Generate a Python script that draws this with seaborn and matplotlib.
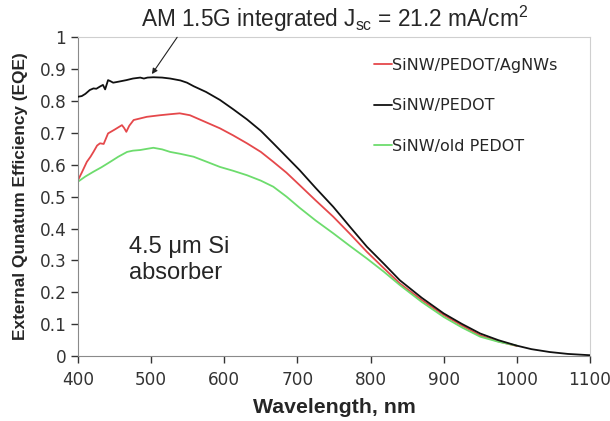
import pandas as pd
import matplotlib
matplotlib.use("Agg")
import matplotlib.pyplot as plt
import seaborn as sns

# wavelength (nm) and EQE
wl_agnw = [400, 405, 412, 417, 421, 426, 430, 435, 441, 450, 460, 463, 466, 470, 476,
           485, 494, 512, 525, 539, 553, 570, 594, 612, 631, 650, 667, 685, 703, 725,
           749, 772, 795, 818, 840, 870, 900, 925, 950, 975, 1000]
eqe_agnw = [0.552, 0.575, 0.609, 0.625, 0.640, 0.660, 0.667, 0.665, 0.698, 0.710, 0.724,
            0.715, 0.703, 0.722, 0.740, 0.745, 0.750, 0.755, 0.758, 0.761, 0.755, 0.738,
            0.714, 0.692, 0.667, 0.640, 0.609, 0.575, 0.536, 0.488, 0.437, 0.383, 0.327,
            0.276, 0.228, 0.176, 0.129, 0.096, 0.065, 0.046, 0.032]

wl_pedot = [400, 405, 410, 416, 421, 425, 430, 434, 437, 441, 444, 448, 455, 466, 475,
            485, 490, 495, 503, 515, 526, 540, 549, 558, 575, 594, 612, 631, 650, 667,
            685, 703, 725, 749, 772, 795, 818, 840, 870, 900, 925, 950, 975, 1000, 1020,
            1045, 1070, 1100]
eqe_pedot = [0.813, 0.815, 0.822, 0.834, 0.839, 0.838, 0.845, 0.850, 0.836, 0.865, 0.862,
             0.857, 0.860, 0.865, 0.870, 0.873, 0.870, 0.873, 0.874, 0.873, 0.870, 0.864,
             0.857, 0.846, 0.828, 0.803, 0.774, 0.742, 0.706, 0.667, 0.625, 0.583, 0.527,
             0.468, 0.405, 0.343, 0.290, 0.238, 0.183, 0.134, 0.101, 0.071, 0.050, 0.033,
             0.022, 0.013, 0.007, 0.003]

wl_old = [400, 410, 421, 432, 444, 455, 467, 475, 485, 495, 503, 515, 526, 540, 558,
          575, 594, 612, 631, 650, 667, 685, 703, 725, 749, 772, 795, 818, 840, 870,
          900, 925, 950, 975, 1000]
eqe_old = [0.547, 0.563, 0.578, 0.592, 0.609, 0.625, 0.640, 0.644, 0.646, 0.650, 0.653,
           0.648, 0.640, 0.634, 0.625, 0.610, 0.593, 0.581, 0.567, 0.550, 0.531, 0.500,
           0.465, 0.425, 0.385, 0.345, 0.306, 0.265, 0.223, 0.170, 0.123, 0.090, 0.061,
           0.045, 0.033]

names = ["SiNW/PEDOT/AgNWs", "SiNW/PEDOT", "SiNW/old PEDOT"]
colores = {"SiNW/PEDOT/AgNWs": "#e5484b", "SiNW/PEDOT": "#111111", "SiNW/old PEDOT": "#6ddc6d"}

df = pd.concat([
    pd.DataFrame({"wl": wl_agnw, "eqe": eqe_agnw, "muestra": names[0]}),
    pd.DataFrame({"wl": wl_pedot, "eqe": eqe_pedot, "muestra": names[1]}),
    pd.DataFrame({"wl": wl_old, "eqe": eqe_old, "muestra": names[2]}),
])

sns.set_style("white")
plt.rcParams["font.family"] = ["DejaVu Sans"]

fig = plt.figure(figsize=(6.1, 4.21), dpi=100)
ax = fig.add_axes([0.128, 0.154, 0.839, 0.758])

sns.lineplot(data=df, x="wl", y="eqe", hue="muestra", hue_order=names,
             palette=colores, linewidth=1.3, ax=ax, sort=False)
ax.lines[1].set_zorder(4)

ax.set_xlim(400, 1100)
ax.set_ylim(0, 1)
ax.set_xticks(range(400, 1101, 100))
ax.set_yticks([i / 10 for i in range(11)])
ax.set_yticklabels(["0", "0.1", "0.2", "0.3", "0.4", "0.5", "0.6", "0.7", "0.8", "0.9", "1"])
ax.tick_params(axis="both", labelsize=12.2, colors="#333333", direction="out",
               length=5, width=1, left=True, bottom=True)
ax.tick_params(axis="x", pad=6)

for lado in ["left", "bottom"]:
    ax.spines[lado].set_color("#8a8a8a")
for lado in ["top", "right"]:
    ax.spines[lado].set_color("#cfcfcf")

ax.set_xlabel("Wavelength, nm", fontsize=15.3, fontweight="bold", family="Liberation Sans",
              labelpad=6)
ax.set_ylabel("External Qunatum Efficiency (EQE)", fontsize=12.4, fontweight="bold",
              family="Liberation Sans", labelpad=8)

leg = ax.legend(loc="upper left", bbox_to_anchor=(0.55, 0.98), frameon=False,
                fontsize=11.5, handlelength=1.15, handletextpad=0.0, labelspacing=1.6)
for linea in leg.get_lines():
    linea.set_linewidth(1.3)

ax.text(0.10, 0.375, "4.5 \u03bcm Si\nabsorber", transform=ax.transAxes,
        fontsize=17, family="Liberation Sans", va="top", linespacing=1.22)

ax.annotate("AM 1.5G integrated J$_{\\mathregular{sc}}$ = 21.2 mA/cm$^{\\mathregular{2}}$",
            xy=(501, 0.884), xytext=(0.548, 0.955), textcoords="figure fraction",
            ha="center", va="center", fontsize=16.3, family="Liberation Sans",
            arrowprops=dict(arrowstyle="-|>", color="#222222", lw=0.8,
                            shrinkA=0, shrinkB=0, mutation_scale=8,
                            relpos=(0.1, 0.0)),
            annotation_clip=False)

plt.savefig("out.png", dpi=100)
